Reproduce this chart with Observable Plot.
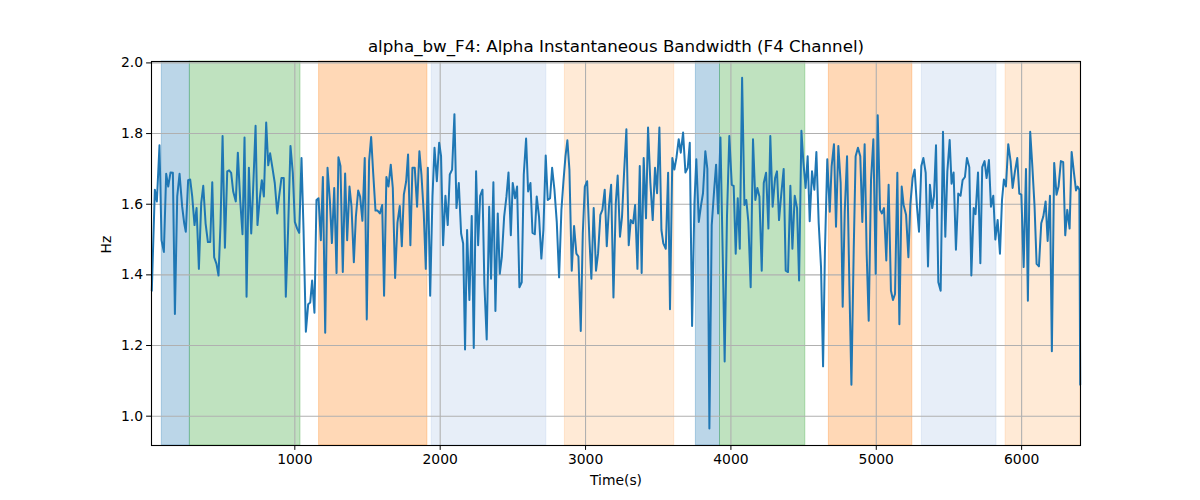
<!DOCTYPE html>
<html>
<head>
<meta charset="utf-8">
<script src="https://cdn.jsdelivr.net/npm/d3@7"></script>
<script src="https://cdn.jsdelivr.net/npm/@observablehq/plot@0.6"></script>
<style>
  html, body { margin: 0; padding: 0; background: white; }
  #chart svg { display: block; }
</style>
</head>
<body>
<div id="chart"></div>
<script>
const titleText = "alpha_bw_F4: Alpha Instantaneous Bandwidth (F4 Channel)";
const xLabel = "Time(s)";
const yLabel = "Hz";
const xTicks = [1000, 2000, 3000, 4000, 5000, 6000];
const yTicks = [1.0, 1.2, 1.4, 1.6, 1.8, 2.0];

const bandStart = [85, 278, 1167, 1942, 2858, 3759, 3925, 4674, 5314, 5890];
const bandEnd   = [278, 1039, 1912, 2730, 3610, 3925, 4512, 5248, 5827, 6405];
const bandColor = ["#1f77b4", "#2ca02c", "#ff7f0e", "#aec7e8", "#ffbb78",
                   "#1f77b4", "#2ca02c", "#ff7f0e", "#aec7e8", "#ffbb78"];

const times = [16,37,51,69,83,99,115,129,145,161,175,191,207,225,239,250,266,280,294,310,324,340,356,370,386,402,418,432,445,461,475,489,503,519,535,548,562,576,594,608,624,640,654,668,684,700,713,730,743,759,773,787,803,817,830,846,862,879,892,908,924,938,954,970,986,1000,1016,1030,1046,1060,1076,1092,1106,1119,1135,1149,1163,1179,1193,1209,1225,1241,1255,1271,1287,1300,1314,1330,1346,1360,1376,1390,1406,1420,1436,1449,1465,1481,1495,1511,1525,1539,1555,1569,1585,1601,1614,1630,1644,1660,1674,1690,1706,1722,1736,1750,1766,1779,1795,1809,1825,1841,1857,1871,1887,1901,1915,1931,1947,1961,1977,1993,2006,2020,2036,2052,2066,2082,2098,2112,2128,2144,2158,2171,2185,2201,2217,2231,2247,2261,2275,2291,2304,2320,2337,2350,2366,2380,2396,2410,2424,2440,2456,2470,2486,2499,2515,2529,2545,2561,2575,2591,2605,2621,2635,2651,2664,2680,2696,2710,2726,2740,2756,2770,2786,2802,2818,2834,2848,2862,2875,2889,2905,2921,2937,2951,2967,2981,2995,3011,3027,3040,3056,3072,3086,3102,3116,3132,3146,3162,3176,3192,3208,3221,3237,3251,3265,3281,3297,3311,3327,3341,3357,3373,3386,3400,3416,3430,3446,3462,3478,3492,3508,3522,3535,3552,3568,3581,3597,3611,3625,3641,3655,3671,3687,3703,3717,3733,3749,3762,3779,3795,3808,3824,3838,3852,3868,3884,3898,3912,3928,3944,3957,3973,3989,4006,4019,4033,4047,4061,4077,4093,4106,4120,4136,4152,4168,4182,4196,4212,4226,4242,4258,4271,4287,4304,4317,4331,4347,4363,4377,4393,4409,4423,4439,4455,4469,4485,4498,4514,4528,4542,4558,4574,4588,4604,4620,4634,4647,4663,4680,4693,4709,4723,4739,4755,4769,4783,4799,4815,4829,4845,4858,4874,4890,4904,4920,4934,4948,4964,4980,4996,5010,5026,5039,5053,5069,5085,5101,5115,5129,5145,5159,5175,5188,5205,5221,5234,5250,5264,5280,5294,5310,5324,5340,5356,5369,5385,5397,5411,5427,5443,5459,5475,5489,5505,5518,5532,5548,5564,5580,5594,5610,5624,5640,5654,5670,5683,5700,5716,5729,5745,5759,5775,5789,5805,5819,5835,5851,5865,5878,5892,5908,5924,5938,5954,5970,5984,5998,6014,6030,6043,6059,6073,6089,6103,6119,6135,6149,6165,6179,6195,6208,6224,6240,6254,6270,6286,6300,6314,6330,6344,6360,6374,6385,6397,6403];

const values = [1.355,1.641,1.608,1.767,1.498,1.465,1.686,1.650,1.690,1.689,1.289,1.622,1.686,1.593,1.546,1.522,1.668,1.670,1.622,1.541,1.589,1.417,1.603,1.652,1.546,1.493,1.493,1.662,1.450,1.431,1.398,1.546,1.793,1.477,1.693,1.696,1.689,1.636,1.608,1.746,1.612,1.515,1.789,1.338,1.703,1.517,1.641,1.822,1.541,1.617,1.668,1.622,1.831,1.710,1.744,1.703,1.660,1.574,1.622,1.674,1.674,1.338,1.531,1.765,1.689,1.550,1.531,1.519,1.731,1.526,1.239,1.317,1.322,1.384,1.293,1.612,1.617,1.498,1.677,1.236,1.703,1.612,1.490,1.646,1.405,1.733,1.708,1.408,1.687,1.498,1.650,1.593,1.436,1.565,1.639,1.622,1.553,1.731,1.274,1.722,1.790,1.689,1.582,1.582,1.574,1.598,1.341,1.677,1.650,1.712,1.646,1.391,1.548,1.595,1.481,1.627,1.665,1.741,1.484,1.703,1.703,1.593,1.750,1.684,1.574,1.417,1.703,1.341,1.622,1.760,1.665,1.774,1.736,1.484,1.624,1.541,1.684,1.698,1.855,1.589,1.660,1.517,1.489,1.189,1.527,1.329,1.567,1.193,1.693,1.484,1.624,1.641,1.374,1.217,1.593,1.389,1.662,1.298,1.574,1.403,1.450,1.565,1.622,1.690,1.512,1.660,1.617,1.650,1.365,1.379,1.684,1.786,1.636,1.660,1.519,1.515,1.622,1.565,1.446,1.527,1.738,1.612,1.617,1.703,1.641,1.550,1.393,1.584,1.665,1.736,1.781,1.698,1.412,1.538,1.460,1.452,1.241,1.517,1.650,1.665,1.498,1.389,1.589,1.412,1.460,1.570,1.584,1.641,1.481,1.598,1.655,1.336,1.603,1.681,1.508,1.565,1.689,1.812,1.484,1.555,1.546,1.598,1.417,1.708,1.405,1.731,1.560,1.817,1.660,1.555,1.703,1.631,1.817,1.527,1.489,1.474,1.689,1.303,1.731,1.698,1.731,1.784,1.746,1.803,1.690,1.703,1.774,1.255,1.603,1.727,1.550,1.598,1.631,1.750,1.700,0.965,1.541,1.636,1.712,1.574,1.789,1.450,1.155,1.565,1.793,1.655,1.652,1.460,1.617,1.474,1.958,1.598,1.612,1.550,1.365,1.784,1.612,1.646,1.622,1.412,1.660,1.689,1.531,1.793,1.593,1.674,1.693,1.555,1.631,1.700,1.412,1.408,1.652,1.474,1.624,1.589,1.384,1.808,1.722,1.646,1.736,1.552,1.693,1.641,1.748,1.546,1.422,1.141,1.470,1.727,1.579,1.708,1.770,1.536,1.765,1.660,1.310,1.579,1.736,1.370,1.089,1.474,1.736,1.760,1.736,1.550,1.770,1.460,1.270,1.670,1.784,1.403,1.852,1.584,1.574,1.589,1.441,1.655,1.355,1.329,1.346,1.689,1.260,1.650,1.598,1.570,1.450,1.598,1.674,1.698,1.593,1.522,1.708,1.731,1.689,1.424,1.655,1.589,1.622,1.767,1.379,1.355,1.805,1.508,1.693,1.782,1.658,1.690,1.471,1.630,1.624,1.668,1.677,1.731,1.705,1.398,1.589,1.572,1.690,1.433,1.705,1.722,1.674,1.725,1.593,1.624,1.500,1.555,1.460,1.612,1.670,1.650,1.770,1.722,1.646,1.693,1.731,1.630,1.627,1.422,1.700,1.327,1.805,1.712,1.593,1.431,1.424,1.546,1.565,1.608,1.496,1.624,1.184,1.717,1.627,1.650,1.722,1.719,1.512,1.584,1.531,1.748,1.689,1.639,1.650,1.641,1.089];

const series = times.map((t, i) => ({t, v: values[i]}));
const bands = bandStart.map((s, i) => ({s, e: bandEnd[i], c: bandColor[i]}));

const chart = Plot.plot({
  width: 1200,
  height: 500,
  marginLeft: 151,
  marginRight: 120,
  marginTop: 61,
  marginBottom: 55,
  style: {fontFamily: "'DejaVu Sans', sans-serif", fontSize: "13.9px", background: "white", color: "black"},
  x: {domain: [14, 6405]},
  y: {domain: [0.917, 2.004]},
  marks: [
    Plot.rect(bands, {x1: "s", x2: "e", fill: "c", fillOpacity: 0.3, stroke: "c", strokeOpacity: 0.3, strokeWidth: 1}),
    Plot.gridX({ticks: xTicks, stroke: "#b0b0b0", strokeOpacity: 1, strokeWidth: 1.1}),
    Plot.gridY({ticks: yTicks, stroke: "#b0b0b0", strokeOpacity: 1, strokeWidth: 1.1}),
    Plot.line(series, {x: "t", y: "v", stroke: "#1f77b4", strokeWidth: 2}),
    Plot.frame({stroke: "black", strokeWidth: 1.1}),
    Plot.axisX({ticks: xTicks, tickFormat: d3.format("d"), tickSize: 4.9, tickPadding: 3.5, label: null, fontSize: 13.9}),
    Plot.axisY({ticks: yTicks, tickFormat: d3.format(".1f"), tickSize: 4.9, tickPadding: 3.5, label: null, fontSize: 13.9}),
    Plot.text([titleText], {frameAnchor: "top", dy: -21, fontSize: 16.7, fill: "black"}),
    Plot.text([xLabel], {frameAnchor: "bottom", dy: 39, fontSize: 13.9, fill: "black"}),
    Plot.text([yLabel], {frameAnchor: "left", dx: -45, rotate: -90, fontSize: 13.9, fill: "black"})
  ]
});
document.getElementById("chart").appendChild(chart);
</script>
</body>
</html>
